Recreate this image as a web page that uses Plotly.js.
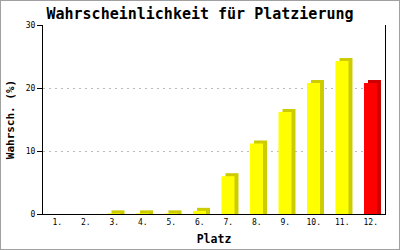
<!DOCTYPE html>
<html>
<head>
<meta charset="utf-8">
<script src="https://cdn.plot.ly/plotly-3.0.1.min.js"></script>
<style>
  html, body { margin: 0; padding: 0; background: #fff; }
  #chart { width: 400px; height: 250px; box-sizing: border-box; border: 1px solid #a0a0a0; }
</style>
</head>
<body>
<div id="chart"></div>
<script>
// Data
const places = ['1.', '2.', '3.', '4.', '5.', '6.', '7.', '8.', '9.', '10.', '11.', '12.'];
const probability = [0, 0, 0.1, 0.1, 0.1, 0.5, 6.0, 11.2, 16.2, 20.8, 24.3, 20.8];
const frontColors = ['#ffff00','#ffff00','#ffff00','#ffff00','#ffff00','#ffff00','#ffff00','#ffff00','#ffff00','#ffff00','#ffff00','#ff0000'];
const sideColors  = ['#cccc00','#cccc00','#cccc00','#cccc00','#cccc00','#cccc00','#cccc00','#cccc00','#cccc00','#cccc00','#cccc00','#cc0000'];

const depth = 0.48; // about 3px of 3D depth in value units
const sideVals = probability.map(v => v > 0 ? v + depth : 0);

const mono = '"DejaVu Sans Mono", "Liberation Mono", monospace';

const traces = [
  {
    type: 'bar', x: places, y: sideVals,
    width: 0.456, offset: -0.097,
    marker: { color: sideColors, line: { width: 0 } },
    hoverinfo: 'skip', showlegend: false
  },
  {
    type: 'bar', x: places, y: probability,
    width: 0.456, offset: -0.237,
    marker: { color: frontColors, line: { width: 0 } },
    showlegend: false
  }
];

const layout = {
  width: 398, height: 248,
  margin: { l: 42, r: 14, t: 24, b: 35, pad: 0 },
  paper_bgcolor: '#ffffff', plot_bgcolor: '#ffffff',
  barmode: 'overlay',
  title: {
    text: '<b>Wahrscheinlichkeit für Platzierung</b>',
    font: { family: mono, size: 15, color: '#000' },
    x: 0.5, xanchor: 'center', y: 0.948, yanchor: 'middle', yref: 'container'
  },
  xaxis: {
    type: 'category',
    showline: true, linecolor: '#000', linewidth: 1,
    ticks: '', showgrid: false, zeroline: false,
    tickfont: { family: mono, size: 8, color: '#000' },
    title: { text: '<b>Platz</b>', font: { family: mono, size: 11.5, color: '#000' }, standoff: 9 }
  },
  yaxis: {
    range: [0, 30], tickvals: [0, 10, 20, 30],
    showline: true, mirror: true, linecolor: '#000', linewidth: 1,
    ticks: 'outside', ticklen: 5, tickcolor: '#000',
    showgrid: true, gridcolor: '#bbbbbb', griddash: '2px,4px', gridwidth: 1,
    zeroline: false,
    tickfont: { family: mono, size: 8, color: '#000' },
    title: { text: '<b>Wahrsch. (%)</b>', font: { family: mono, size: 11, color: '#000' }, standoff: 8 }
  }
};

Plotly.newPlot('chart', traces, layout, { displayModeBar: false, staticPlot: true });
</script>
</body>
</html>
